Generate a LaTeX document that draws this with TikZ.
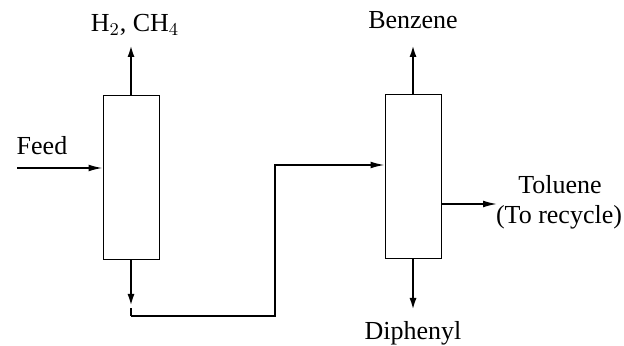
\documentclass[tikz,border=0pt]{standalone}
\usepackage{fontspec}
\setmainfont{Liberation Serif}
\usetikzlibrary{arrows.meta,positioning}

\begin{document}
\begin{tikzpicture}[x=0.5pt,y=-0.5pt,>={Latex[length=7pt,width=3.4pt]},
  column/.style={draw,line width=0.5pt,minimum width=28pt,minimum height=82pt,inner sep=0pt},
  outlet/.style={->,line width=1.4pt},
  stream/.style={->,line width=0.7pt},
  lbl/.style={font=\fontsize{13}{15}\selectfont,inner sep=1pt}]

\useasboundingbox (0,0) rectangle (624,346);

% columns
\node[column] (c1) at (131,178) {};
\node[column] (c2) at (413,177) {};

% stream ends
\coordinate (feed) at (17,168);
\coordinate (top1) at (131,43);
\coordinate (bot1) at (131,308);
\coordinate (turn1) at (131,316);
\coordinate (turn2) at (275,316);
\coordinate (top2) at (413,43);
\coordinate (bot2) at (413,312);
\coordinate (side2) at (497,204);

% labels
\node[lbl] (lfeed) at (42,146) {Feed};
\node[lbl] (lgas) at (135,25) {H$_2$, CH$_4$};
\node[lbl] (lbenz) at (413,20) {Benzene};
\node[lbl] (ldiph) at (413,333) {Diphenyl};
\node[lbl] (ltol) at (560,185) {Toluene};
\node[lbl] (lrec) at (559,217) {(To recycle)};

% streams
\draw[stream] (feed) -- (c1.west |- feed);
\draw[outlet] (c1.north) -- (top1);
\draw[outlet] (c1.south) -- (bot1);
\draw[line width=1.4pt] (bot1) -- (turn1);
\draw[stream] (turn1) -- (turn2) |- (c2.west |- 0,165);
\draw[outlet] (c2.north) -- (top2);
\draw[outlet] (c2.south) -- (bot2);
\draw[stream] (c2.east |- side2) -- (side2);

\end{tikzpicture}
\end{document}
